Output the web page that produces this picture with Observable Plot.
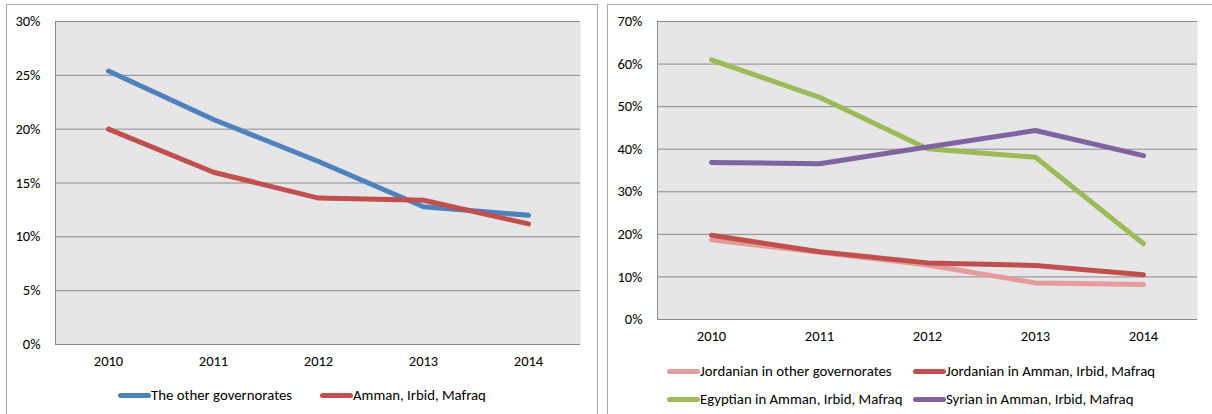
<!DOCTYPE html>
<html>
<head>
<meta charset="utf-8">
<script src="https://cdn.jsdelivr.net/npm/d3@7"></script>
<script src="https://cdn.jsdelivr.net/npm/@observablehq/plot@0.6"></script>
<style>
  html, body { margin: 0; padding: 0; background: #fff; }
  body { width: 1212px; height: 414px; position: relative; overflow: hidden;
         font-family: Carlito, Lato, "Liberation Sans", sans-serif; }
  .panel { position: absolute; border: 1px solid #aaa; box-sizing: border-box; }
  .chart { position: absolute; top: 0; }
  .chart svg text { font-size: 14.5px !important; font-family: Carlito, Lato, "Liberation Sans", sans-serif !important; fill: #000; }
  .legend-item { position: absolute; display: flex; align-items: center; font-size: 14.8px; color: #000; white-space: nowrap; }
  .sw { display: inline-block; width: 33px; height: 5px; border-radius: 3px; }
</style>
</head>
<body>
<div class="panel" style="left:6px; top:4px; width:592px; height:420px;"></div>
<div class="panel" style="left:607px; top:4px; width:620px; height:420px;"></div>
<div id="left" class="chart" style="left:0px;"></div>
<div id="right" class="chart" style="left:600px;"></div>
<div id="legends"></div>
<script>
// ---- data ----
const years = ["2010", "2011", "2012", "2013", "2014"];

// Left chart (percent)
const leftSeries = ["The other governorates", "Amman, Irbid, Mafraq"];
const otherGovernorates = [25.4, 20.9, 17.0, 12.8, 12.0];
const ammanIrbidMafraq = [20.0, 16.0, 13.6, 13.4, 11.2];
const leftColors = ["#4f81bd", "#c0504d"];
const leftTicks = [0, 5, 10, 15, 20, 25, 30];

// Right chart (percent)
const rightSeries = [
  "Jordanian in other governorates",
  "Jordanian in Amman, Irbid, Mafraq",
  "Egyptian in Amman, Irbid, Mafraq",
  "Syrian in Amman, Irbid, Mafraq"
];
const jordanianOther = [18.7, 15.8, 12.8, 8.6, 8.2];
const jordanianAIM = [19.8, 15.9, 13.3, 12.7, 10.5];
const egyptianAIM = [61.0, 52.2, 40.1, 38.1, 17.8];
const syrianAIM = [36.9, 36.6, 40.5, 44.4, 38.5];
const rightColors = ["#e49c9b", "#c0504d", "#9bbb59", "#8064a2"];
const rightTicks = [0, 10, 20, 30, 40, 50, 60, 70];

// ---- build tables ----
function toRows(names, valueLists) {
  const rows = [];
  names.forEach((name, i) => {
    valueLists[i].forEach((v, j) => rows.push({series: name, year: years[j], value: v}));
  });
  return rows;
}
const leftRows = toRows(leftSeries, [otherGovernorates, ammanIrbidMafraq]);
const rightRows = toRows(rightSeries, [jordanianOther, jordanianAIM, egyptianAIM, syrianAIM]);

const FONT = 'Carlito, Lato, "Liberation Sans", sans-serif';

function makeChart({width, height, mL, mR, mT, mB, ticks, rows, names, colors}) {
  return Plot.plot({
    width, height,
    marginLeft: mL, marginRight: mR, marginTop: mT, marginBottom: mB,
    style: {fontFamily: FONT, fontSize: "14.5px", color: "#000", background: "transparent", overflow: "visible"},
    x: {type: "point", domain: years, padding: 0.5, label: null},
    y: {domain: [ticks[0], ticks[ticks.length - 1]], label: null},
    color: {domain: names, range: colors},
    marks: [
      Plot.frame({fill: "#e6e6e6", stroke: null}),
      Plot.ruleY(ticks, {stroke: "#8a8a8a", strokeWidth: 1}),
      Plot.frame({anchor: "left", stroke: "#8a8a8a"}),
      Plot.axisX({tickSize: 0, tickPadding: 11, fontSize: 14.5, label: null}),
      Plot.axisY({ticks, tickFormat: d => d + "%", tickSize: 0, tickPadding: 15, fontSize: 14.5, label: null}),
      ...names.map(n => Plot.lineY(rows.filter(r => r.series === n), {
        x: "year", y: "value", stroke: "series",
        strokeWidth: 5, strokeLinecap: "round", strokeLinejoin: "round"
      }))
    ]
  });
}

document.getElementById("left").append(makeChart({
  width: 600, height: 374, mL: 55, mR: 20, mT: 21, mB: 30,
  ticks: leftTicks, rows: leftRows, names: leftSeries, colors: leftColors
}));
document.getElementById("right").append(makeChart({
  width: 612, height: 350, mL: 57, mR: 15, mT: 21, mB: 31,
  ticks: rightTicks, rows: rightRows, names: rightSeries, colors: rightColors
}));

// ---- legends (HTML) ----
const legendPos = [
  {name: leftSeries[0], color: leftColors[0], x: 118, y: 395},
  {name: leftSeries[1], color: leftColors[1], x: 320, y: 395},
  {name: rightSeries[0], color: rightColors[0], x: 667, y: 371},
  {name: rightSeries[1], color: rightColors[1], x: 913, y: 371},
  {name: rightSeries[2], color: rightColors[2], x: 667, y: 399},
  {name: rightSeries[3], color: rightColors[3], x: 913, y: 399}
];
const lg = document.getElementById("legends");
legendPos.forEach(p => {
  const d = document.createElement("div");
  d.className = "legend-item";
  d.style.left = p.x + "px";
  d.style.top = (p.y - 10) + "px";
  d.style.height = "20px";
  const s = document.createElement("span");
  s.className = "sw";
  s.style.background = p.color;
  d.append(s, document.createTextNode(p.name));
  lg.append(d);
});
</script>
</body>
</html>
